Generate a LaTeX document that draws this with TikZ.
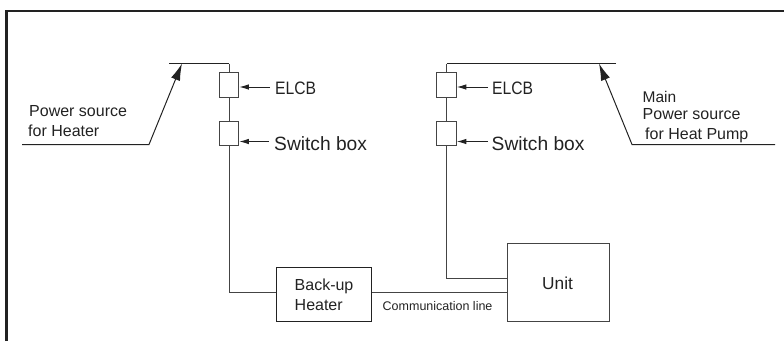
\documentclass[tikz,border=0pt]{standalone}
\usepackage{fontspec}
\setmainfont{Liberation Sans}
\usetikzlibrary{arrows.meta,calc}
\definecolor{ln}{HTML}{444444}
\definecolor{ink}{HTML}{222222}
\tikzset{
  x=1pt,y=-1pt,
  wire/.style={draw=ln,line width=1pt},
  thin wire/.style={draw=ink,line width=1pt},
  device/.style={draw=ln,line width=1pt,fill=white,minimum width=19.5pt,minimum height=24.5pt,inner sep=0pt,anchor=center},
  bigtip/.style={-{Latex[length=17pt,width=9.5pt]}},
  smalltip/.style={-{Latex[length=9.5pt,width=5.5pt]}},
  lab/.style={inner sep=0pt,anchor=base west,text=ink},
  hbox/.style={draw=ink,line width=1.4pt,inner sep=0pt,anchor=north west},
  ubox/.style={draw=ln,line width=1.1pt,inner sep=0pt,anchor=north west}
}
\begin{document}
\begin{tikzpicture}
\useasboundingbox (0,0) rectangle (784,341);
\draw[ink,line width=2.2pt] (6.5,341) -- (6.5,11) -- (784,11);
% devices
\node[device] (e1) at (229,85) {};
\node[device] (s1) at (229,133.5) {};
\node[device] (e2) at (446.5,85) {};
\node[device] (s2) at (446.5,133.5) {};
\node[hbox,minimum width=95pt,minimum height=54pt] (heater) at (275.5,266.5) {};
\node[ubox,minimum width=102.5pt,minimum height=78.5pt] (unit) at (506.5,242.5) {};
% free ends
\coordinate (b1l) at (169,63.5); \coordinate (b1r) at (229,63.5);
\coordinate (b2l) at (446.5,63.5); \coordinate (b2r) at (616,63.5);
\coordinate (p1a) at (22,144.5); \coordinate (p1b) at (149,144.5); \coordinate (p1c) at (182,63.5);
\coordinate (p2a) at (775,144.5); \coordinate (p2b) at (632,144.5); \coordinate (p2c) at (599,63.5);
% wires
\draw[thin wire] (b1l) -- (b1r);
\draw[wire] (b1r) -- (e1.north);
\draw[wire] (e1.south) -- (s1.north);
\draw[wire] (s1.south) |- (heater.west |- 0,292.5);
\draw[wire] (heater.east |- 0,292.5) -- (unit.west |- 0,292.5);
\draw[thin wire] (b2r) -- (b2l);
\draw[wire] (b2l) -- (e2.north);
\draw[wire] (e2.south) -- (s2.north);
\draw[wire] (s2.south) |- (unit.west |- 0,278);
% source arrows
\draw[thin wire,bigtip] (p1a) -- (p1b) -- (p1c);
\draw[thin wire,bigtip] (p2a) -- (p2b) -- (p2c);
% labels
\node[lab,font=\fontsize{18}{20}\selectfont,xscale=0.87] (l1) at (275,94) {ELCB};
\node[lab,font=\fontsize{19.2}{22}\selectfont] (l2) at (274,150.5) {Switch box};
\node[lab,font=\fontsize{18}{20}\selectfont,xscale=0.87] (l3) at (492,94) {ELCB};
\node[lab,font=\fontsize{19.2}{22}\selectfont] (l4) at (491.5,150.5) {Switch box};
\coordinate (a1) at (270,87); \coordinate (a2) at (269,141.5);
\coordinate (a3) at (488,87); \coordinate (a4) at (488,141.5);
\draw[thin wire,smalltip] (a1) -- (e1.east |- a1);
\draw[thin wire,smalltip] (a2) -- (s1.east |- a2);
\draw[thin wire,smalltip] (a3) -- (e2.east |- a3);
\draw[thin wire,smalltip] (a4) -- (s2.east |- a4);
\node[lab,font=\fontsize{16}{18}\selectfont] (t1) at (29,116.5) {Power source};
\node[lab,font=\fontsize{16}{18}\selectfont] (t2) at (28,136) {for Heater};
\node[lab,font=\fontsize{15.5}{18}\selectfont] (t3) at (642.5,102.5) {Main};
\node[lab,font=\fontsize{16}{18}\selectfont] (t4) at (642.5,119.5) {Power source};
\node[lab,font=\fontsize{16}{18}\selectfont] (t5) at (645,139) {for Heat Pump};
\node[lab,font=\fontsize{16}{18}\selectfont] (t6) at (294.5,290) {Back-up};
\node[lab,font=\fontsize{16}{18}\selectfont] (t7) at (294.5,310) {Heater};
\node[lab,font=\fontsize{12.5}{15}\selectfont] (t8) at (382.5,310) {Communication line};
\node[lab,font=\fontsize{17.3}{20}\selectfont] (t9) at (542,289) {Unit};
\end{tikzpicture}
\end{document}
